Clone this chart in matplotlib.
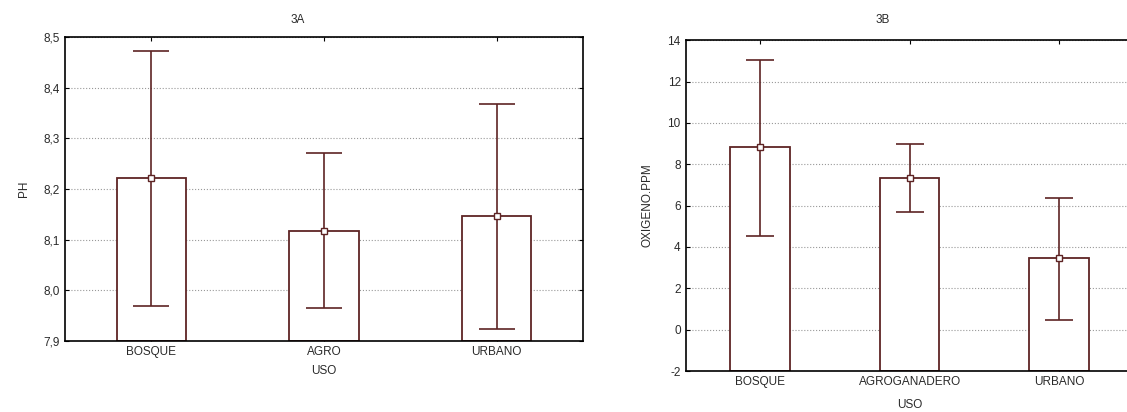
import numpy as np
import matplotlib.pyplot as plt
from matplotlib.ticker import FuncFormatter

plt.rcParams['font.family'] = ['Liberation Sans', 'DejaVu Sans']

# 3A: pH by land use
cats_a = ['BOSQUE', 'AGRO', 'URBANO']
ph_mean = [8.221, 8.118, 8.146]
ph_low = [7.970, 7.965, 7.924]
ph_high = [8.472, 8.271, 8.368]

# 3B: dissolved oxygen by land use
cats_b = ['BOSQUE', 'AGROGANADERO', 'URBANO']
ox_mean = [8.82, 7.35, 3.46]
ox_low = [4.55, 5.71, 0.47]
ox_high = [13.02, 8.98, 6.39]

edge = '#5e2424'
fs = 8.5
txt = '#2a2a2a'

fig = plt.figure(figsize=(11.27, 4.12), dpi=100)
ax1 = fig.add_axes([0.0577, 0.1723, 0.4596, 0.738])
# right panel runs past the image edge, as in the original
ax2 = fig.add_axes([0.6083, 0.0995, 0.42, 0.803])


def draw(ax, cats, mean, low, high, ylim, yticks, fmt, capsize, xmax):
    x = np.arange(len(cats))
    base = ylim[0]
    ax.bar(x, np.array(mean) - base, bottom=base, width=0.4, color='white',
           edgecolor=edge, linewidth=1.3, zorder=2)
    yerr = [np.array(mean) - np.array(low), np.array(high) - np.array(mean)]
    ax.errorbar(x, mean, yerr=yerr, fmt='s', color=edge, ecolor=edge,
                markerfacecolor='white', markeredgecolor=edge, markersize=4,
                elinewidth=1.2, capsize=capsize, capthick=1.2, zorder=3)
    ax.set_xlim(-0.5, xmax)
    ax.set_ylim(*ylim)
    ax.set_yticks(yticks)
    ax.yaxis.set_major_formatter(FuncFormatter(fmt))
    ax.set_xticks(x)
    ax.set_xticklabels(cats)
    ax.grid(axis='y', linestyle=':', color='#999999', linewidth=0.8, zorder=0)
    ax.tick_params(direction='in', length=3, labelsize=fs, top=True,
                   right=True, colors='black', labelcolor=txt)
    for s in ax.spines.values():
        s.set_linewidth(1.2)
        s.set_color('black')


draw(ax1, cats_a, ph_mean, ph_low, ph_high, (7.9, 8.5),
     np.arange(7.9, 8.51, 0.1), lambda v, p: f'{v:.1f}'.replace('.', ','), 13, 2.5)
draw(ax2, cats_b, ox_mean, ox_low, ox_high, (-2, 14),
     np.arange(-2, 15, 2), lambda v, p: f'{v:.0f}', 10, 2.67)

ax1.set_xlabel('USO', fontsize=fs, color=txt, labelpad=5)
ax1.set_ylabel('PH', fontsize=fs, color=txt, labelpad=10)
ax2.set_xlabel('USO', fontsize=fs, color=txt, labelpad=5)
ax2.xaxis.set_label_coords(0.5 * 3 / 3.17, -0.085)
ax2.set_ylabel('OXIGENO.PPM', fontsize=fs, color=txt, labelpad=10)

fig.text(298 / 1127, 0.951, '3A', fontsize=fs, ha='center', va='center', color=txt)
fig.text(883 / 1127, 0.951, '3B', fontsize=fs, ha='center', va='center', color=txt)

fig.savefig('out.png', dpi=100)
